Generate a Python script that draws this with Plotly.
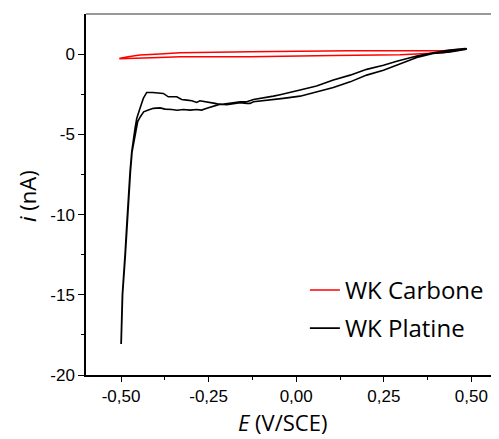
import plotly.graph_objects as go

# ---- data ----
pt_E = [-0.4995, -0.4955, -0.4876, -0.4826, -0.4781, -0.4732, -0.4685, -0.4648, -0.4562,
        -0.4525, -0.4448, -0.4354, -0.422, -0.4078, -0.3887, -0.3744,
        -0.355, -0.340, -0.322, -0.303, -0.284, -0.270, -0.255, -0.237,
        -0.217, -0.198, -0.180, -0.160, -0.141, -0.132, -0.122, -0.084, -0.046, -0.037,
        0.011, 0.058, 0.106, 0.154, 0.201, 0.249, 0.297, 0.344, 0.391, 0.439,
        0.482, 0.487,
        0.482, 0.439, 0.391, 0.344, 0.287, 0.249, 0.201, 0.154, 0.106, 0.058,
        0.011, -0.008, -0.027, -0.046, -0.065, -0.084, -0.103, -0.122, -0.141, -0.160,
        -0.180, -0.198, -0.217, -0.232, -0.246, -0.260, -0.275, -0.284, -0.298, -0.312,
        -0.327, -0.341, -0.365, -0.3793, -0.395, -0.410, -0.4267, -0.4364,
        -0.4458, -0.4552, -0.460, -0.4649, -0.4695, -0.4743, -0.4792, -0.4837, -0.4886,
        -0.4963, -0.500]
pt_i = [-18.07, -15.0, -12.5, -10.65, -8.79, -7.33, -6.09, -5.67, -4.63,
        -4.20, -3.90, -3.60, -3.49, -3.38, -3.35, -3.43,
        -3.45, -3.50, -3.45, -3.49, -3.45, -3.49, -3.38, -3.24,
        -3.12, -3.15, -3.08, -3.03, -3.08, -3.07, -2.97, -2.89, -2.80, -2.76,
        -2.62, -2.35, -2.08, -1.73, -1.31, -1.00, -0.58, -0.21, 0.04, 0.14,
        0.29, 0.33,
        0.35, 0.25, 0.08, -0.12, -0.44, -0.69, -0.95, -1.31, -1.62, -1.99,
        -2.24, -2.35, -2.45, -2.53, -2.62, -2.70, -2.76, -2.83, -2.97, -2.97,
        -3.03, -3.07, -3.14, -3.07, -3.03, -2.97, -2.91, -3.01, -2.91, -2.87,
        -2.83, -2.66, -2.66, -2.45, -2.40, -2.39, -2.39, -2.76,
        -3.38, -4.01, -4.63, -5.25, -6.09, -7.33, -8.79, -10.65, -12.5,
        -15.0, -18.07]

c_E = [-0.505, -0.470, -0.446, -0.389, -0.332, -0.132, 0.106, 0.296, 0.419, 0.487,
       0.487, 0.419, 0.154, -0.132, -0.332, -0.389, -0.446, -0.480, -0.505]
c_i = [-0.29, -0.28, -0.27, -0.21, -0.17, -0.17, -0.08, -0.04, 0.08, 0.29,
       0.33, 0.21, 0.21, 0.14, 0.08, 0.00, -0.06, -0.16, -0.27]

x_tickvals = [-0.50, -0.25, 0.00, 0.25, 0.50]
x_ticktext = ["-0,50", "-0,25", "0,00", "0,25", "0,50"]
y_tickvals = [-20, -15, -10, -5, 0]
y_ticktext = ["-20", "-15", "-10", "-5", "0"]

TICKFONT = dict(family="Liberation Sans, Arial", size=17, color="#000")
TITLEFONT = dict(family="Open Sans", size=22, color="#000")
LEGFONT = dict(family="Open Sans", size=24, color="#000")

fig = go.Figure()
fig.add_trace(go.Scatter(x=c_E, y=c_i, mode="lines", name="WK Carbone",
                         line=dict(color="#ff0000", width=1.5), legendgroup="a"))
fig.add_trace(go.Scatter(x=pt_E, y=pt_i, mode="lines", name="WK Platine",
                         line=dict(color="#000000", width=1.6), legendgroup="b"))

fig.update_layout(
    width=491, height=431,
    margin=dict(l=78, r=0, t=6, b=64),
    paper_bgcolor="white", plot_bgcolor="white",
    showlegend=True,
    legend=dict(x=0.53, y=0.297, xanchor="left", yanchor="top",
                font=LEGFONT, bgcolor="rgba(0,0,0,0)",
                traceorder="grouped", tracegroupgap=4),
    xaxis=dict(range=[-0.6, 0.5788], showgrid=False, zeroline=False,
               showline=True, linecolor="#000", linewidth=1.5,
               ticks="outside", ticklen=5, tickwidth=1.2, tickcolor="#000",
               tickvals=x_tickvals, ticktext=x_ticktext, tickfont=TICKFONT,
               minor=dict(ticks="outside", ticklen=3, tickwidth=1.2, tickcolor="#000",
                          tickvals=[-0.375, -0.125, 0.125, 0.375])),
    yaxis=dict(range=[-20, 2.5], showgrid=False, zeroline=False,
               showline=True, linecolor="#000", linewidth=1.5,
               ticks="outside", ticklen=6, tickwidth=1.2, tickcolor="#000",
               tickvals=y_tickvals, ticktext=y_ticktext, tickfont=TICKFONT,
               minor=dict(ticks="outside", ticklen=3, tickwidth=1.2, tickcolor="#000",
                          tickvals=[-17.5, -12.5, -7.5, -2.5])),
    shapes=[dict(type="line", xref="paper", yref="paper", x0=0, x1=1, y0=1, y1=1,
                 line=dict(color="#777777", width=1.5))],
    annotations=[
        dict(text="<i>E</i> (V/SCE)", xref="paper", yref="paper", x=0.4746, y=-0.131,
             xanchor="center", yanchor="middle", showarrow=False, font=TITLEFONT),
        dict(text="<i>i</i> (nA)", xref="paper", yref="paper", x=-0.1429, y=0.4958,
             xanchor="center", yanchor="middle", showarrow=False, textangle=-90,
             font=TITLEFONT),
    ],
)

fig.write_html("out.html")
